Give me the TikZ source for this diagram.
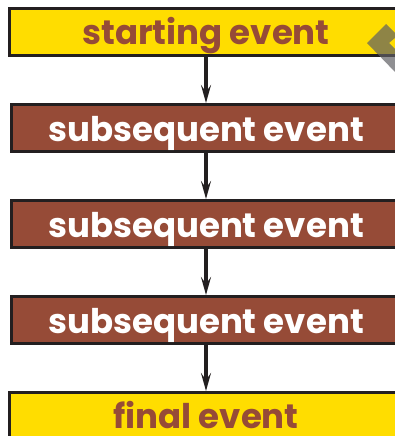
\documentclass[tikz,border=0pt]{standalone}
\usepackage{fontspec}
\newfontfamily\evfont{Poppins}
\usetikzlibrary{arrows.meta}
\definecolor{evyellow}{RGB}{255,221,0}
\definecolor{evbrown}{RGB}{150,75,55}
\definecolor{evborder}{RGB}{35,31,32}
\definecolor{evgrey}{RGB}{95,95,100}
\tikzset{
  evbox/.style={draw=evborder, line width=3pt, rectangle, inner sep=0pt,
    minimum height=47pt, text height=30pt, text depth=4pt,
    font=\evfont\bfseries\fontsize{34}{34}\selectfont},
  firstlast/.style={evbox, fill=evyellow, text=evbrown, minimum width=393pt},
  middle/.style={evbox, fill=evbrown, text=white, minimum width=389pt},
  flow/.style={draw=evborder, line width=4pt,
    -{Stealth[length=18pt,width=10pt,inset=7pt]}},
}
\begin{document}
\begin{tikzpicture}[x=1pt,y=-1pt]
\useasboundingbox (0,0) rectangle (394,436);
\node[firstlast] (e1) at (206,32) {starting event};
\fill[evgrey, opacity=0.7] (367,43) -- (386,24) -- (396,34) -- (396,37) -- (389,43) -- (396,50) -- (396,73) -- cycle;
\node[middle] (e2) at (206,128) {subsequent event};
\node[middle] (e3) at (206,224) {subsequent event};
\node[middle] (e4) at (206,320) {subsequent event};
\node[firstlast, minimum height=60pt, text height=15pt, text depth=4pt] (e5) at (206,422.5) {final event};
\draw[flow] (e1.south) -- (e2.north);
\draw[flow] (e2.south) -- (e3.north);
\draw[flow] (e3.south) -- (e4.north);
\draw[flow] (e4.south) -- (e5.north);
\end{tikzpicture}
\end{document}
